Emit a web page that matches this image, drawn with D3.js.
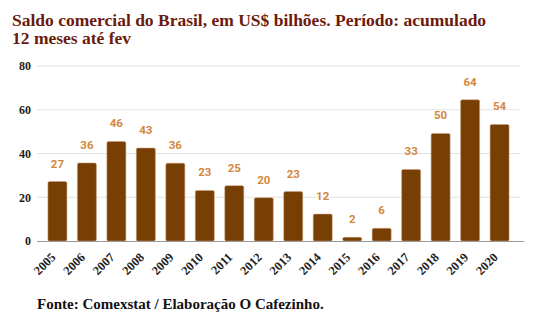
<!DOCTYPE html>
<html>
<head>
<meta charset="utf-8">
<script src="https://cdn.jsdelivr.net/npm/d3@7"></script>
<style>
  body { margin: 0; background: #fff; }
</style>
</head>
<body>
<div id="chart"></div>
<script>
// ===========Data
var years = ["2005", "2006", "2007", "2008", "2009", "2010", "2011", "2012",
             "2013", "2014", "2015", "2016", "2017", "2018", "2019", "2020"];
var saldo = [27.2, 35.7, 45.5, 42.5, 35.6, 23.1, 25.3, 19.8,
             22.6, 12.3, 1.7, 5.8, 32.7, 49.2, 64.6, 53.3];
var saldoLabels = [27, 36, 46, 43, 36, 23, 25, 20, 23, 12, 2, 6, 33, 50, 64, 54];
var yTicks = [0, 20, 40, 60, 80];

// ===========Size
var svgWidth = 534;
var svgHeight = 321;

var svg = d3.select("#chart").append("svg")
    .attr("width", svgWidth)
    .attr("height", svgHeight);

// ===========Title
var title = svg.append("text")
    .attr("x", 12)
    .attr("y", 26)
    .attr("fill", "#6b1a0c")
    .attr("font-family", "Liberation Serif")
    .attr("font-weight", "bold")
    .attr("font-size", "17.5px");
title.append("tspan").attr("x", 12).text("Saldo comercial do Brasil, em US$ bilhões. Período: acumulado");
title.append("tspan").attr("x", 12).attr("dy", 18).text("12 meses até fev");

// ===========Scales
var xScale = d3.scaleBand()
    .domain(years)
    .range([37, 520])
    .paddingInner(0.355)
    .paddingOuter(0.37);

var yScale = d3.scaleLinear()
    .domain([0, 80])
    .range([241, 66]);

// ===========Grid
svg.append("g")
    .selectAll("line")
    .data(yTicks.filter(d => d > 0))
    .enter()
    .append("line")
    .attr("x1", 37)
    .attr("x2", 520)
    .attr("y1", d => yScale(d))
    .attr("y2", d => yScale(d))
    .attr("stroke", "#e3e3e3")
    .attr("stroke-width", 1);

// ===========Y axis
var leftAxis = d3.axisLeft(yScale).tickValues(yTicks).tickSize(0).tickPadding(0);
var yAxis = svg.append("g")
    .attr("transform", "translate(31, 0)")
    .call(leftAxis);
yAxis.select(".domain").remove();
yAxis.selectAll("text")
    .attr("font-family", "Liberation Serif")
    .attr("font-weight", "bold")
    .attr("font-size", "12px")
    .attr("fill", "#222");

// ===========Bars
svg.append("g")
    .selectAll("rect")
    .data(saldo)
    .enter()
    .append("rect")
    .attr("x", (d, i) => xScale(years[i]))
    .attr("y", d => yScale(d))
    .attr("width", xScale.bandwidth())
    .attr("height", d => yScale(0) - yScale(d))
    .attr("rx", 1.5)
    .attr("fill", "#783f04")
    .attr("stroke", "#c9a07a")
    .attr("stroke-width", 0.5);

// ===========Value labels
svg.append("g")
    .selectAll("text")
    .data(saldoLabels)
    .enter()
    .append("text")
    .attr("x", (d, i) => xScale(years[i]) + xScale.bandwidth() / 2)
    .attr("y", (d, i) => yScale(saldo[i]) - 14)
    .attr("text-anchor", "middle")
    .attr("font-family", "Roboto")
    .attr("font-weight", "bold")
    .attr("font-size", "11.5px")
    .attr("fill", "#d3883b")
    .text(d => d);

// ===========X axis
var bottomAxis = d3.axisBottom(xScale).tickSize(0).tickPadding(0);
var xAxis = svg.append("g")
    .attr("transform", "translate(0, 241)")
    .call(bottomAxis);
xAxis.select(".domain")
    .attr("d", "M37,0.5H524")
    .attr("stroke", "#999")
    .attr("stroke-width", 1.2);
xAxis.selectAll("text")
    .attr("font-family", "Liberation Serif")
    .attr("font-weight", "bold")
    .attr("font-size", "12.5px")
    .attr("fill", "#222")
    .attr("text-anchor", "end")
    .attr("dy", null)
    .attr("transform", "translate(-1, 17) rotate(-45)");

// ===========Footer
svg.append("text")
    .attr("x", 37)
    .attr("y", 309)
    .attr("font-family", "Liberation Serif")
    .attr("font-weight", "bold")
    .attr("font-size", "15px")
    .attr("fill", "#111")
    .text("Fonte: Comexstat / Elaboração O Cafezinho.");
</script>
</body>
</html>
